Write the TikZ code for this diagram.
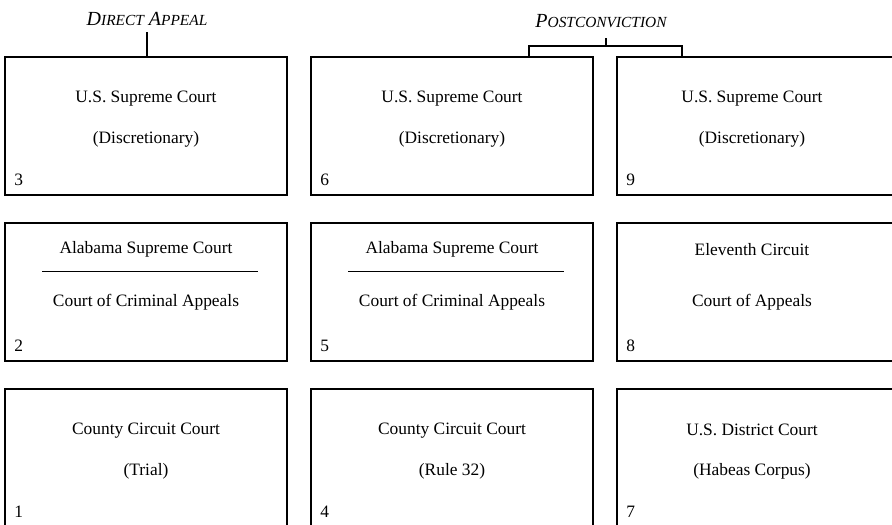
\documentclass[tikz,border=0pt]{standalone}
\usepackage{fontspec}
\setmainfont{Liberation Serif}
\usetikzlibrary{calc}

\begin{document}
\begin{tikzpicture}[x=1pt, y=-1pt,
    court/.style={draw, line width=1.6pt, minimum width=282pt, minimum height=138pt, inner sep=0pt},
    txt/.style={font=\fontsize{17.4}{20}\selectfont, inner sep=0pt},
    num/.style={txt, anchor=west},
    head/.style={font=\fontsize{20}{22}\selectfont\itshape, inner sep=0pt}]
    \useasboundingbox (0, 0) rectangle (892, 525);
    \clip (0, 0) rectangle (892, 525);
    \node[head] (direct) at (147, 19) {D{\fontsize{15.4}{17}\selectfont IRECT} A{\fontsize{15.4}{17}\selectfont PPEAL}};
    \node[head] (post) at (601, 21) {P{\fontsize{15.4}{17}\selectfont OSTCONVICTION}};
    \node[court] (b3) at (146, 126) {};
    \node[court] (b6) at (452, 126) {};
    \node[court] (b9) at (758, 126) {};
    \node[court] (b2) at (146, 292) {};
    \node[court] (b5) at (452, 292) {};
    \node[court] (b8) at (758, 292) {};
    \node[court] (b1) at (146, 458) {};
    \node[court] (b4) at (452, 458) {};
    \node[court] (b7) at (758, 458) {};
    \coordinate (dtop) at (147, 32);
    \draw[line width=1.2pt] (dtop) -- (dtop |- b3.north);
    \coordinate (ptop) at (606, 38);
    \coordinate (pmid) at (606, 46);
    \draw[line width=1.2pt] (ptop) -- (pmid);
    \draw[line width=1.2pt] (529, 57) |- (pmid) -| (682, 57);
    \node[txt] (t3a) at ($(b3.north)+(0, 42)$) {U.S. Supreme Court};
    \node[txt] (t3b) at ($(b3.north)+(0, 83)$) {(Discretionary)};
    \node[num] (n3) at ($(b3.north west)+(10, 124)$) {3};
    \node[txt] (t6a) at ($(b6.north)+(0, 42)$) {U.S. Supreme Court};
    \node[txt] (t6b) at ($(b6.north)+(0, 83)$) {(Discretionary)};
    \node[num] (n6) at ($(b6.north west)+(10, 124)$) {6};
    \node[txt] (t9a) at ($(b9.north)+(-6, 42)$) {U.S. Supreme Court};
    \node[txt] (t9b) at ($(b9.north)+(-6, 83)$) {(Discretionary)};
    \node[num] (n9) at ($(b9.north west)+(10, 124)$) {9};
    \node[txt] (t2a) at ($(b2.north)+(0, 27)$) {Alabama Supreme Court};
    \node[txt] (t2b) at ($(b2.north)+(0, 80)$) {Court of Criminal Appeals};
    \draw[line width=0.9pt] ($(b2.north)+(-104, 49)$) -- ($(b2.north)+(112, 49)$);
    \node[num] (n2) at ($(b2.north west)+(10, 124)$) {2};
    \node[txt] (t5a) at ($(b5.north)+(0, 27)$) {Alabama Supreme Court};
    \node[txt] (t5b) at ($(b5.north)+(0, 80)$) {Court of Criminal Appeals};
    \draw[line width=0.9pt] ($(b5.north)+(-104, 49)$) -- ($(b5.north)+(112, 49)$);
    \node[num] (n5) at ($(b5.north west)+(10, 124)$) {5};
    \node[txt] (t8a) at ($(b8.north)+(-6, 27)$) {Eleventh Circuit};
    \node[txt] (t8b) at ($(b8.north)+(-6, 80)$) {Court of Appeals};
    \node[num] (n8) at ($(b8.north west)+(10, 124)$) {8};
    \node[txt] (t1a) at ($(b1.north)+(0, 42)$) {County Circuit Court};
    \node[txt] (t1b) at ($(b1.north)+(0, 83)$) {(Trial)};
    \node[num] (n1) at ($(b1.north west)+(10, 124)$) {1};
    \node[txt] (t4a) at ($(b4.north)+(0, 42)$) {County Circuit Court};
    \node[txt] (t4b) at ($(b4.north)+(0, 83)$) {(Rule 32)};
    \node[num] (n4) at ($(b4.north west)+(10, 124)$) {4};
    \node[txt] (t7a) at ($(b7.north)+(-6, 42)$) {U.S. District Court};
    \node[txt] (t7b) at ($(b7.north)+(-6, 83)$) {(Habeas Corpus)};
    \node[num] (n7) at ($(b7.north west)+(10, 124)$) {7};
\end{tikzpicture}
\end{document}
